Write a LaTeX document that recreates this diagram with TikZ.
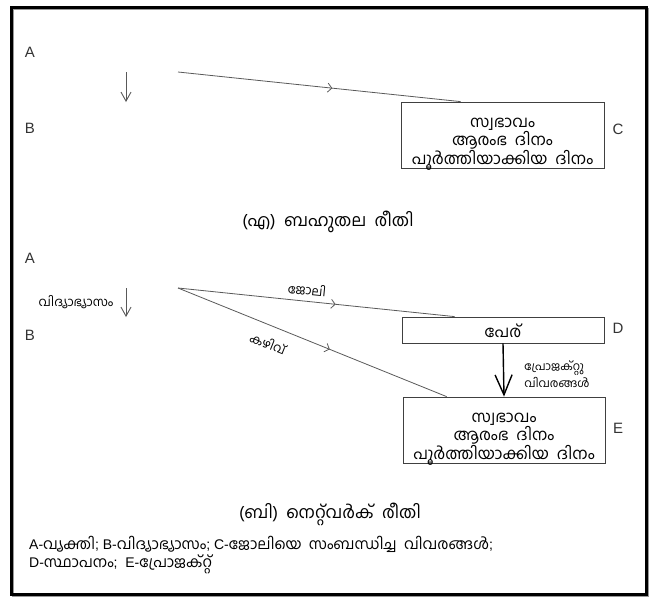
\documentclass[tikz,border=0pt]{standalone}
\usepackage{fontspec}
\setmainfont{Liberation Sans}
\newfontfamily\mlfont[Script=Malayalam]{Hind Kochi}
\usetikzlibrary{arrows.meta,decorations.markings}
\begin{document}
\begin{tikzpicture}[x=1pt,y=-1pt,
  lat/.style={font=\fontsize{15}{16}\selectfont, inner sep=0pt, text=black!80},
  mlbox/.style={draw=black!75, line width=0.8pt, inner sep=0pt},
  mltext/.style={align=center, inner sep=0pt, font=\mlfont\fontsize{16}{18.5}\selectfont},
  small/.style={font=\mlfont\fontsize{12.5}{18}\selectfont, inner sep=0pt, align=left},
  captxt/.style={font=\mlfont\fontsize{17}{18}\selectfont, inner sep=0pt},
  conn/.style={draw=black!65, line width=0.8pt},
  midarrow/.style={postaction={decorate}, decoration={markings,
    mark=at position #1 with {\arrow[black!65]{Straight Barb[length=4pt,width=9pt]}}}},
  downarrow/.style={draw=black!65, line width=0.9pt, -{Straight Barb[length=9pt,width=10pt]}},
  bigarrow/.style={draw=black, line width=1.4pt, -{Straight Barb[length=20pt,width=17pt,line width=1.4pt]}},
  legend/.style={anchor=west, inner sep=0pt, font=\fontsize{14}{15}\selectfont}
]
\useasboundingbox (0,0) rectangle (658,600);
% frame
\draw[black!40, line width=2pt] (13,9) rectangle (648,596);
\draw[black, line width=3pt] (11,7) rectangle (646,594);

% ---- part (a)
\node[lat] (a1) at (30,52) {A};
\node[lat] (b1) at (30,128) {B};
\coordinate (a1top) at (126,72);
\coordinate (a1bot) at (126,102);
\draw[downarrow] (a1top) -- (a1bot);
\coordinate (s1) at (178,72);
\node[mlbox, minimum width=203pt, minimum height=66pt] (C) at (502.5,135) {};
\node[mltext] (Ct) at ([yshift=-9pt]C.center)
  {സ്വഭാവം\\ആരംഭ\ \ ദിനം\\പൂർത്തിയാക്കിയ\ \ ദിനം};
\node[lat] (cl) at (618,129) {C};
\draw[conn, midarrow=0.546] (s1) -- ([xshift=60pt]C.north west);
\node[captxt] (capa) at (328,222) {(എ)\ \ ബഹുതല\ \ രീതി};

% ---- part (b)
\node[lat] (a2) at (30,258) {A};
\node[lat] (b2) at (30,335) {B};
\coordinate (a2top) at (126,288);
\coordinate (a2bot) at (126,317);
\draw[downarrow] (a2top) -- (a2bot);
\node[small] (edu) at (76,302) {വിദ്യാഭ്യാസം};
\coordinate (s2) at (178,288);
\node[mlbox, minimum width=202pt, minimum height=26pt] (D) at (503,330) {};
\node[mltext] (Dt) at ([yshift=-1pt]D.center) {പേര്};
\node[lat] (dl) at (618,328) {D};
\node[mlbox, minimum width=202pt, minimum height=66pt] (E) at (504,430) {};
\node[mltext] (Et) at ([yshift=-9pt]E.center)
  {സ്വഭാവം\\ആരംഭ\ \ ദിനം\\പൂർത്തിയാക്കിയ\ \ ദിനം};
\node[lat] (el) at (618,428) {E};
\draw[conn, midarrow=0.57] (s2) -- ([xshift=53pt]D.north west);
\draw[conn, midarrow=0.565] (s2) -- ([xshift=44pt]E.north west);
\node[small, rotate=-5.6] (job) at (307,290) {ജോലി};
\node[small, rotate=-22] (skill) at (268,343) {കഴിവ്};
\draw[bigarrow] (D.south) -- (E.north);
\node[small, font=\mlfont\fontsize{11.5}{17}\selectfont] (proj) at (557,374) {പ്രോജക്റ്റു\\വിവരങ്ങൾ};
\node[captxt] (capb) at (330,514) {(ബി)\ \ നെറ്റ്‌വർക്\ \ രീതി};

% legend
\node[legend] (leg1) at (29,544)
  {A-{\mlfont\fontsize{15}{15}\selectfont വ്യക്തി}; B-{\mlfont\fontsize{15}{15}\selectfont വിദ്യാഭ്യാസം}; C-{\mlfont\fontsize{15}{15}\selectfont ജോലിയെ\ \ സംബന്ധിച്ച\ \ വിവരങ്ങൾ};};
\node[legend] (leg2) at (29,564)
  {D-{\mlfont\fontsize{15}{15}\selectfont സ്ഥാപനം}; \ E-{\mlfont\fontsize{15}{15}\selectfont പ്രോജക്റ്റ്}};
\end{tikzpicture}
\end{document}
